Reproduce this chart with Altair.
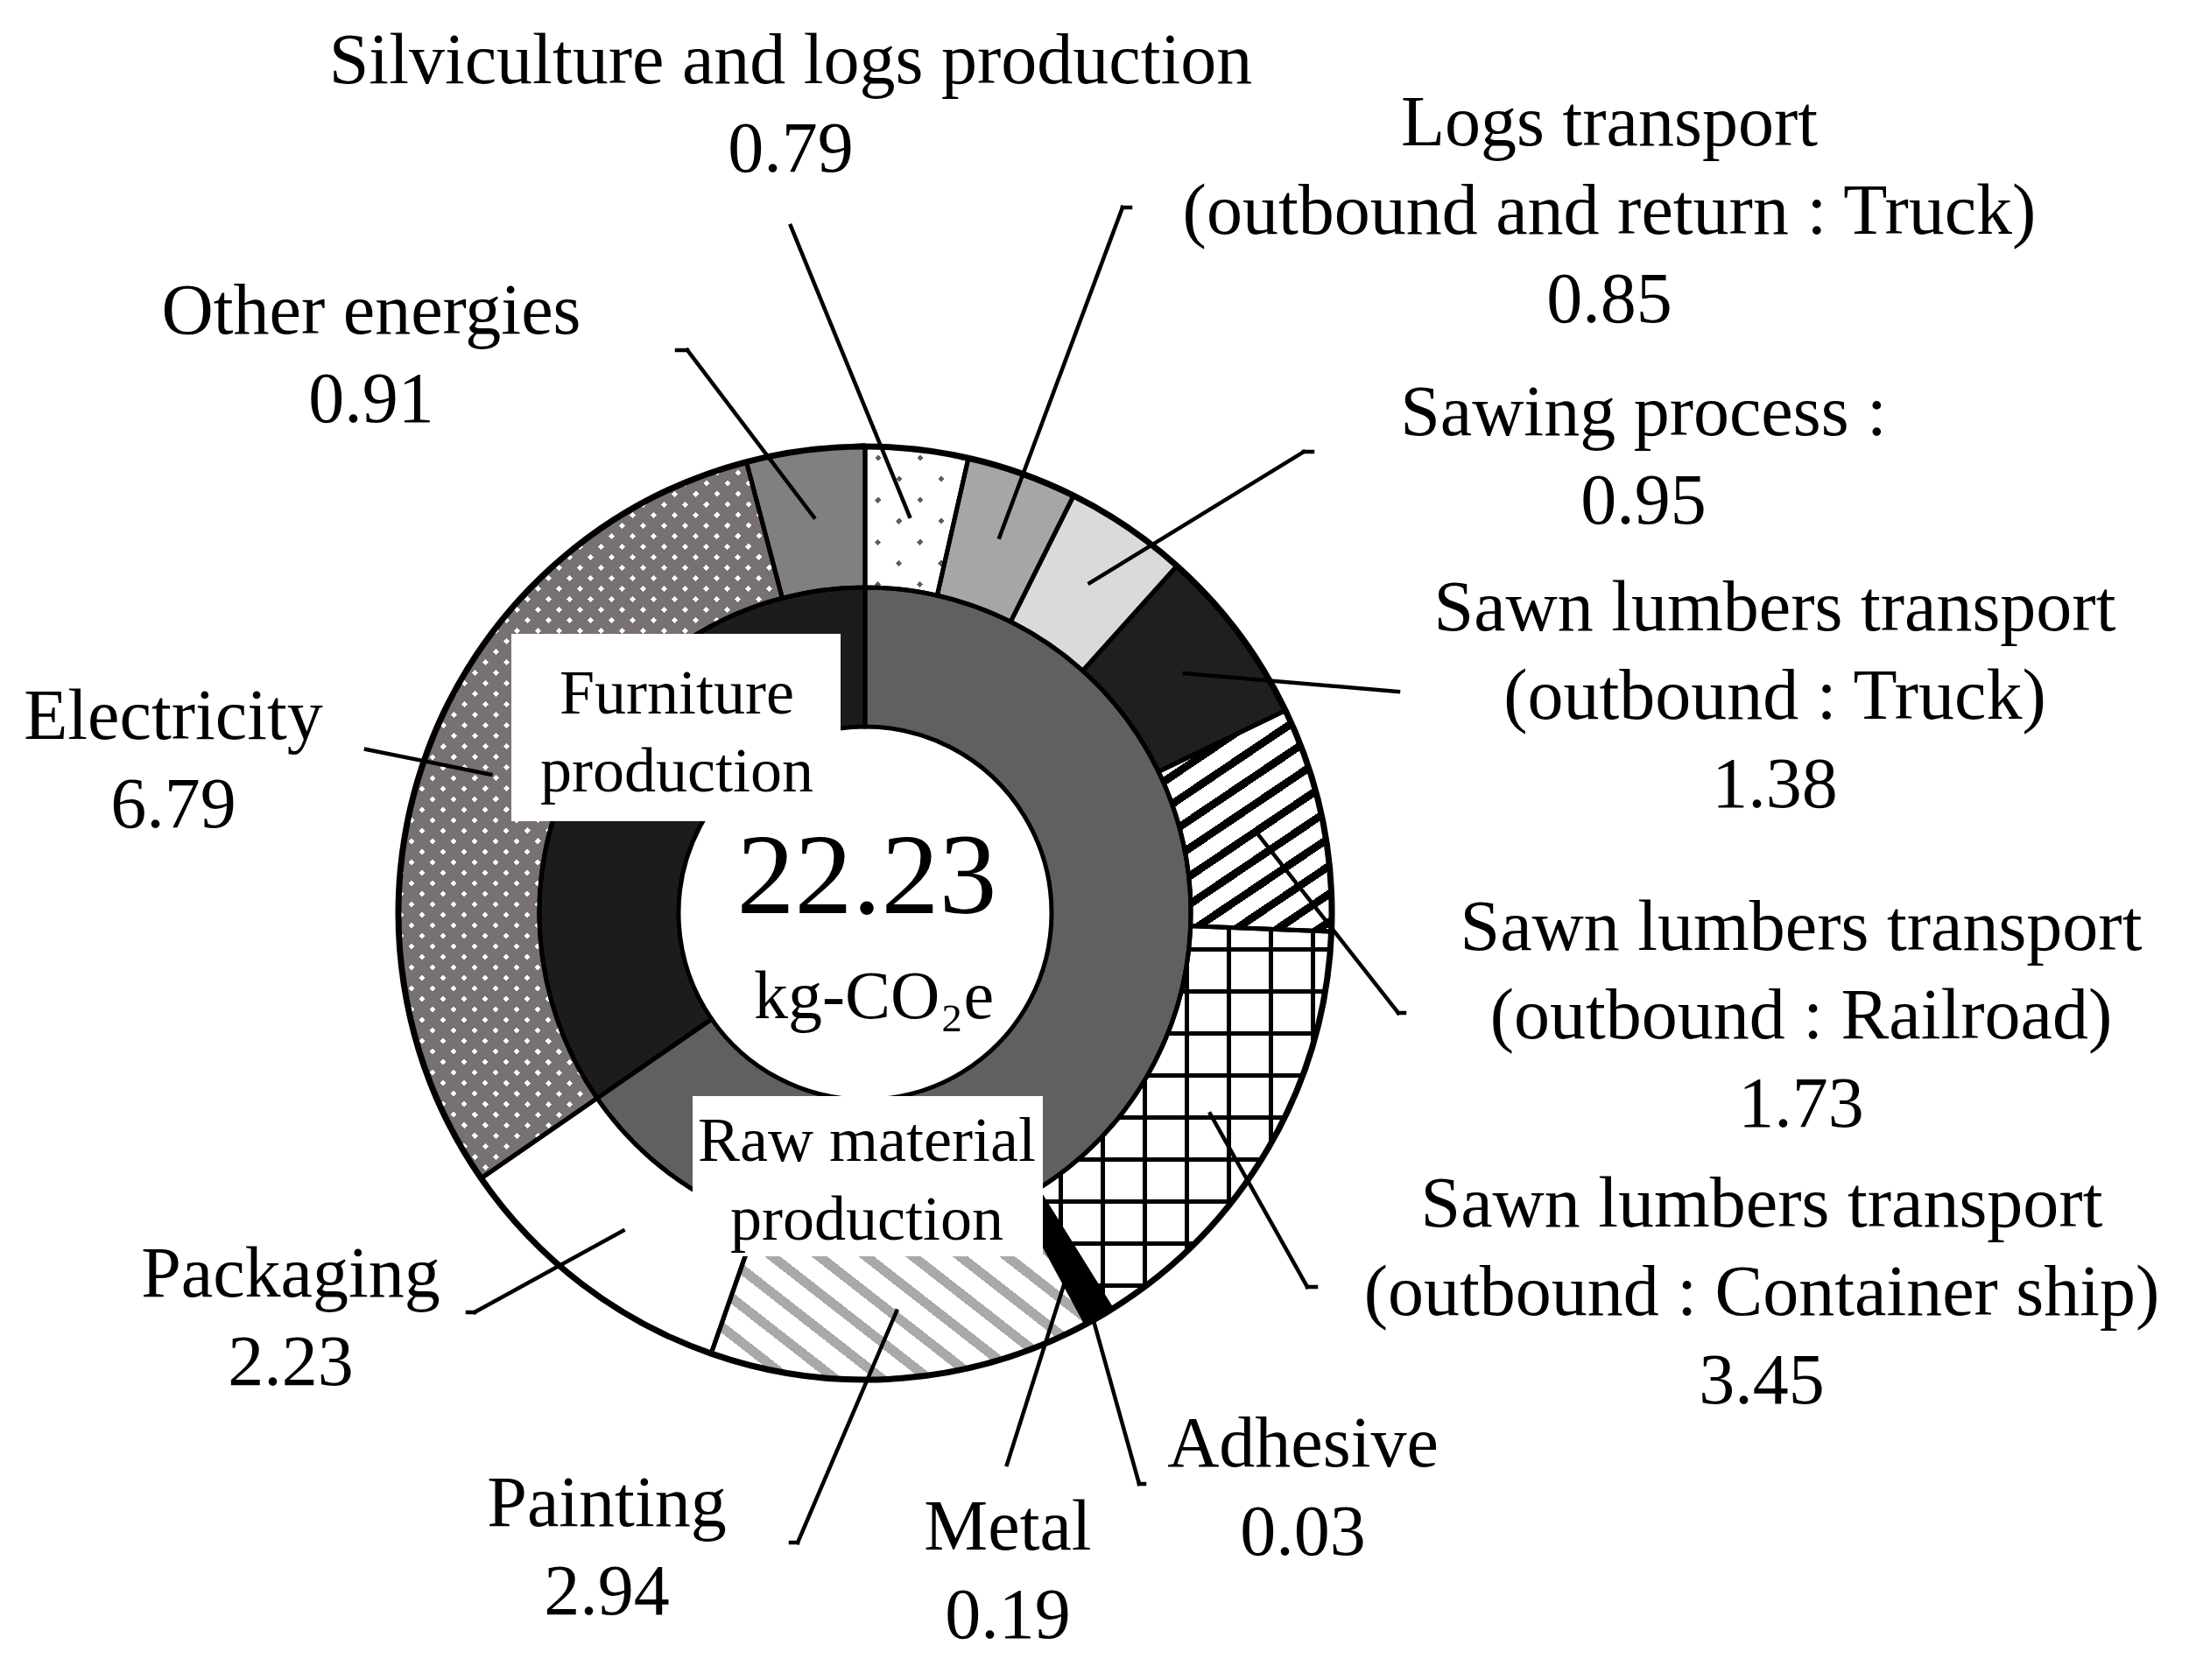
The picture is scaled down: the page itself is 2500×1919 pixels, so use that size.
import math
import pandas as pd
import altair as alt

# ---------------- data ----------------
outer_names = [
    "Silviculture and logs production",
    "Logs transport (outbound and return : Truck)",
    "Sawing process",
    "Sawn lumbers transport (outbound : Truck)",
    "Sawn lumbers transport (outbound : Railroad)",
    "Sawn lumbers transport (outbound : Container ship)",
    "Adhesive",
    "Metal",
    "Painting",
    "Packaging",
    "Electricity",
    "Other energies",
]
outer_values = [0.79, 0.85, 0.95, 1.38, 1.73, 3.45, 0.03, 0.19, 2.94, 2.23, 6.79, 0.91]
outer_stage = ["Raw material production"] * 10 + ["Furniture production"] * 2
inner_names = ["Raw material production", "Furniture production"]
outer_label_lines = [
    ["Silviculture and logs production"],
    ["Logs transport", "(outbound and return : Truck)"],
    ["Sawing process :"],
    ["Sawn lumbers transport", "(outbound : Truck)"],
    ["Sawn lumbers transport", "(outbound : Railroad)"],
    ["Sawn lumbers transport", "(outbound : Container ship)"],
    ["Adhesive"],
    ["Metal"],
    ["Painting"],
    ["Packaging"],
    ["Electricity"],
    ["Other energies"],
]
inner_label_lines = [["Raw material", "production"], ["Furniture", "production"]]
total_text = "22.23"
unit_text = "kg-CO\u2082e"

# ---------------- layout / style (not data) ----------------
OFF = 8  # page margin
CX, CY = 988 - OFF, 1043 - OFF
R_OUT, R_MID, R_IN = 533, 372, 213
FONT = "Liberation Serif"
FS_LABEL, FS_BOX, FS_TOTAL, FS_UNIT = 82, 72, 132, 78
LINE_GAP = 101

# base fills of outer slices (patterns are layered on top)
outer_base = ["#5e5e5e", "#a6a6a6", "#dadada", "#1f1f1f", "#ffffff", "#ffffff",
              "#000000", "#000000", "#ffffff", "#ffffff", "#ffffff", "#808080"]
inner_base = ["#606060", "#1c1c1c"]

# label placement (page coordinates): centre x, cap-middle y of first line,
# leader end point, hook length, start radius, start-angle offset (deg)
label_layout = [
    dict(cx=903, y0=68, end=(903, 258), hook=0, r=456, da=0),
    dict(cx=1838, y0=139, end=(1282, 237), hook=9, r=456, da=0),
    dict(cx=1877, y0=470, end=(1489, 516), hook=10, r=456, da=0),
    dict(cx=2027, y0=693, end=(1597, 790), hook=0, r=456, da=0),
    dict(cx=2057, y0=1058, end=(1597, 1157), hook=7, r=456, da=0),
    dict(cx=2012, y0=1374, end=(1493, 1470), hook=10, r=456, da=0),
    dict(cx=1488, y0=1648, end=(1301, 1695), hook=6, r=527, da=2.2),
    dict(cx=1151, y0=1743, end=(1150, 1673), hook=0, r=478, da=1.3),
    dict(cx=693, y0=1716, end=(911, 1762), hook=-8, r=456, da=0),
    dict(cx=332, y0=1454, end=(542, 1499), hook=-8, r=456, da=0),
    dict(cx=198, y0=817, end=(418, 856), hook=0, r=456, da=0),
    dict(cx=424, y0=354, end=(785, 400), hook=-12, r=456, da=0),
]
box_layout = [
    dict(rect=(791, 1252, 1191, 1435), cx=990, y0=1302, gap=90),
    dict(rect=(584, 724, 960, 938), cx=773, y0=791, gap=89),
]
center_layout = dict(cx=990, total_y=998, unit_y=1137)

# ---------------- derived tables ----------------
total = sum(outer_values)
rows, cum = [], 0.0
for i, (n, v, s) in enumerate(zip(outer_names, outer_values, outer_stage)):
    rows.append(dict(name=n, value=v, stage=s, start=cum, end=cum + v, col=outer_base[i]))
    cum += v
outer_df = pd.DataFrame(rows)

inner_rows, cum = [], 0.0
for i, n in enumerate(inner_names):
    v = sum(val for val, st in zip(outer_values, outer_stage) if st == n)
    inner_rows.append(dict(name=n, value=v, start=cum, end=cum + v, col=inner_base[i]))
    cum += v
inner_df = pd.DataFrame(inner_rows)

theta_scale = alt.Scale(domain=[0, total], range=[0, 2 * math.pi], nice=False, zero=True)


def arc_enc():
    return dict(
        theta=alt.Theta("start:Q", scale=theta_scale, stack=False),
        theta2=alt.Theta2("end:Q"),
        x=alt.value(CX),
        y=alt.value(CY),
    )


def ang(v):
    return v / total * 2 * math.pi


def arc_bbox(t0, t1, r0, r1):
    pts = []
    for a in (t0, t1):
        for r in (r0, r1):
            pts.append((r * math.sin(a), -r * math.cos(a)))
    for k in range(0, 5):
        a = k * math.pi / 2
        if t0 < a < t1:
            pts.append((r1 * math.sin(a), -r1 * math.cos(a)))
    xs = [p[0] for p in pts]
    ys = [p[1] for p in pts]
    return max(xs) - min(xs), max(ys) - min(ys)


def band_gradient(W, H, phi_deg, falling, period, band, c_band, c_gap):
    phi = math.radians(phi_deg)
    D = W * math.sin(phi) + H * math.cos(phi)
    al = W * math.sin(phi) / D
    be = H * math.cos(phi) / D
    n2 = al * al + be * be
    a, b = al / n2, be / n2
    stops = [(0.0, c_gap)]
    pos = period * 0.5
    while pos < D:
        o1 = pos / D
        o2 = min((pos + band) / D, 1.0)
        stops += [(o1, c_gap), (o1, c_band), (o2, c_band), (o2, c_gap)]
        pos += period
    stops.append((1.0, c_gap))
    gstops = [alt.GradientStop(color=c, offset=round(o, 5)) for o, c in stops]
    if falling:
        return alt.LinearGradient(gradient="linear", stops=gstops,
                                  x1=0, y1=1, x2=round(a, 5), y2=round(1 - b, 5))
    return alt.LinearGradient(gradient="linear", stops=gstops,
                              x1=0, y1=0, x2=round(a, 5), y2=round(b, 5))


CLEAR = "rgba(255,255,255,0)"


def pattern(idx, phi, falling, period, band, c_band, c_gap):
    t0 = ang(sum(outer_values[:idx]))
    t1 = ang(sum(outer_values[:idx + 1]))
    W, H = arc_bbox(t0, t1, R_MID, R_OUT)
    grad = band_gradient(W, H, phi, falling, period, band, c_band, c_gap)
    return (
        alt.Chart(outer_df)
        .transform_filter(alt.datum.name == outer_names[idx])
        .mark_arc(radius=R_OUT, radius2=R_MID, fill=grad)
        .encode(**arc_enc())
    )


# ---------------- layers ----------------
outer_base_layer = alt.Chart(outer_df).mark_arc(radius=R_OUT, radius2=R_MID).encode(
    **arc_enc(), fill=alt.Fill("col:N", scale=None, legend=None)
)
inner_base_layer = alt.Chart(inner_df).mark_arc(radius=R_MID, radius2=R_IN).encode(
    **arc_enc(), fill=alt.Fill("col:N", scale=None, legend=None)
)

patterns = [
    # silviculture: grey dots on white (white layers with clear diagonal bands)
    pattern(0, 45, False, 34, 5, CLEAR, "#ffffff"),
    pattern(0, 45, True, 34, 5, CLEAR, "#ffffff"),
    # railroad: black "/" stripes
    pattern(4, 34, False, 26.5, 9, "#000000", CLEAR),
    # container ship: black grid
    pattern(5, 0, False, 48, 5, "#000000", CLEAR),
    pattern(5, 90, False, 48, 5, "#000000", CLEAR),
    # painting: grey "\" stripes
    pattern(8, 38, True, 33, 11, "#a9a9a9", CLEAR),
    # electricity: white dots on grey
    pattern(10, 45, False, 17, 5, CLEAR, "#777171"),
    pattern(10, 45, True, 17, 5, CLEAR, "#777171"),
]

outline_outer = alt.Chart(outer_df).mark_arc(
    radius=R_OUT, radius2=R_MID, fill="white", fillOpacity=0, stroke="black", strokeWidth=5
).encode(**arc_enc())
outline_inner = alt.Chart(inner_df).mark_arc(
    radius=R_MID, radius2=R_IN, fill="white", fillOpacity=0, stroke="black", strokeWidth=5
).encode(**arc_enc())
outer_rim = alt.Chart(outer_df).mark_arc(
    radius=R_OUT, radius2=R_OUT, fill="white", fillOpacity=0, stroke="black", strokeWidth=7
).encode(**arc_enc())

# white label boxes
box_df = pd.DataFrame([
    dict(x=b["rect"][0] - OFF, y=b["rect"][1] - OFF, x2=b["rect"][2] - OFF, y2=b["rect"][3] - OFF)
    for b in box_layout
])
boxes = alt.Chart(box_df).mark_rect(fill="white").encode(
    x=alt.X("x:Q", scale=None, axis=None), x2="x2:Q",
    y=alt.Y("y:Q", scale=None, axis=None), y2="y2:Q",
)

# leader lines
seg_rows = []
for i, lay in enumerate(label_layout):
    mid = ang(sum(outer_values[:i]) + outer_values[i] / 2) + math.radians(lay["da"])
    sx = CX + lay["r"] * math.sin(mid)
    sy = CY - lay["r"] * math.cos(mid)
    ex, ey = lay["end"][0] - OFF, lay["end"][1] - OFF
    seg_rows.append(dict(x=sx, y=sy, x2=ex, y2=ey))
    if lay["hook"]:
        seg_rows.append(dict(x=ex, y=ey, x2=ex + lay["hook"], y2=ey))
seg_df = pd.DataFrame(seg_rows)
leaders = alt.Chart(seg_df).mark_rule(color="black", strokeWidth=4.5, strokeCap="square").encode(
    x=alt.X("x:Q", scale=None, axis=None), x2="x2:Q",
    y=alt.Y("y:Q", scale=None, axis=None), y2="y2:Q",
)

# texts
txt_rows = []
for i, lay in enumerate(label_layout):
    lines = outer_label_lines[i] + [f"{outer_values[i]:.2f}"]
    for j, t in enumerate(lines):
        cap_mid = lay["y0"] + j * LINE_GAP
        txt_rows.append(dict(x=lay["cx"] - OFF, y=cap_mid + 0.331 * FS_LABEL - OFF, text=t, fs=FS_LABEL))
for b, lines in zip(box_layout, inner_label_lines):
    for j, t in enumerate(lines):
        cap_mid = b["y0"] + j * b["gap"]
        txt_rows.append(dict(x=b["cx"] - OFF, y=cap_mid + 0.331 * FS_BOX - OFF, text=t, fs=FS_BOX))
txt_rows.append(dict(x=center_layout["cx"] - OFF, y=center_layout["total_y"] + 0.338 * FS_TOTAL - OFF,
                     text=total_text, fs=FS_TOTAL))
txt_rows.append(dict(x=center_layout["cx"] + 8 - OFF, y=center_layout["unit_y"] + 0.331 * FS_UNIT - OFF,
                     text=unit_text, fs=FS_UNIT))
txt_df = pd.DataFrame(txt_rows)
texts = alt.Chart(txt_df).mark_text(font=FONT, align="center", baseline="alphabetic", color="black").encode(
    x=alt.X("x:Q", scale=None, axis=None),
    y=alt.Y("y:Q", scale=None, axis=None),
    text="text:N",
    size=alt.Size("fs:Q", scale=None, legend=None),
)

chart = alt.layer(
    outer_base_layer, inner_base_layer, *patterns,
    outline_outer, outline_inner, outer_rim,
    boxes, leaders, texts,
).properties(
    width=2484, height=1903, padding=0,
    autosize=alt.AutoSizeParams(type="none"),
).configure_view(strokeWidth=0)

chart.save("out.html", embed_options={"renderer": "svg", "actions": False})
